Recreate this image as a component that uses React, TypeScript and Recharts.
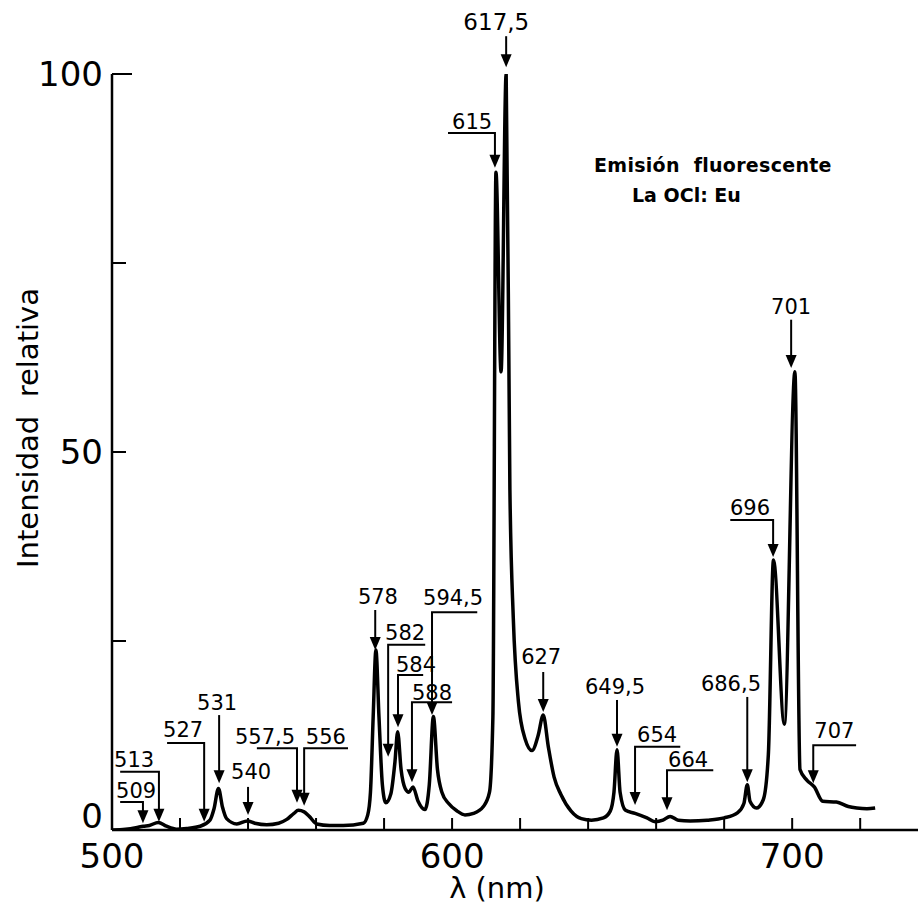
import { Customized, Line, LineChart, ReferenceDot, ReferenceLine, XAxis, YAxis } from 'recharts';

const FONT = "'DejaVu Sans', 'Open Sans', sans-serif";
const INK = '#000';

// spectrum: wavelength (nm) and relative intensity
const WAVELENGTH = [
  500, 504, 507, 509.2, 511, 513.6, 516, 519, 522, 525.9, 528.8, 530, 531.3, 532.5, 533.7, 536.7, 539.8, 542,
  545.5, 549, 551.4, 553.5, 554.8, 556.5, 558, 560.2, 564, 568, 573.9, 575.2, 576, 576.8, 577.6, 578.5, 579.5,
  580.5, 582, 583.2, 584, 585, 586.2, 587.3, 588.5, 590, 592, 593.3, 594.5, 595.7, 597, 599, 601.5, 603.8, 606.3,
  609.2, 611, 612, 612.9, 614.4, 615.9, 617, 618, 619.5, 621.5, 623.5, 625.3, 626.8, 628.3, 630, 632, 635, 638,
  641, 644.5, 646.5, 647.6, 648.5, 649.4, 651, 653.8, 657.3, 659.7, 662, 664.1, 666.5, 670, 675, 680, 684, 685.8,
  686.8, 687.6, 689.5, 691.5, 693, 694.5, 697.7, 700.8, 702.3, 704.3, 706.5, 709, 713, 716.5, 719, 722, 724.4,
];
const INTENSITY = [
  0, 0.1, 0.3, 0.5, 0.6, 1.0, 0.5, 0.1, 0.2, 0.5, 1.3, 2.8, 5.5, 3, 1.5, 0.8, 1.2, 0.9,
  0.7, 0.9, 1.4, 2.2, 2.6, 2.4, 1.8, 0.8, 0.6, 0.6, 0.9, 2, 5, 15, 23.8, 15, 6,
  3.6, 4.8, 9, 13, 8, 5.5, 5, 5.7, 3.8, 2.7, 6, 15, 8, 5, 3.5, 2.5, 2.0, 2.2,
  3.1, 5, 15, 87, 60.6, 100, 45, 28, 17, 12, 10.5, 12.5, 15.2, 11, 7, 4.7, 2.5, 1.5,
  1.3, 1.6, 2.5, 5, 10.6, 5, 2.6, 2.2, 1.6, 1.1, 1.3, 1.8, 1.3, 1.2, 1.3, 1.6, 2.3, 3.5,
  6, 3.8, 2.9, 4, 10, 35.7, 14, 60.6, 8, 6.6, 5.7, 3.8, 3.7, 3.1, 2.9, 2.8, 2.9,
];

const X_TICKS = [500, 520, 540, 560, 580, 600, 620, 640, 660, 680, 700, 720];
const X_LABELS = [500, 600, 700];
const Y_TICKS = [0, 25, 50, 75, 100];
const Y_LABELS = [0, 50, 100];

// peak labels: text spot, leader start and arrow tip, all in data units
const PEAKS = [
  { text: '509', tx: 507.1, ty: 5.2, sx: 502.4, sy: 3.7, ex: 509.1, ey: 0.9 },
  { text: '513', tx: 506.5, ty: 9.3, sx: 502.4, sy: 7.7, ex: 513.8, ey: 1.1 },
  { text: '527', tx: 520.9, ty: 13.2, sx: 516.2, sy: 11.5, ex: 527.1, ey: 1.1 },
  { text: '531', tx: 530.9, ty: 16.8, sx: 531.5, sy: 15.2, ex: 531.5, ey: 6.2 },
  { text: '540', tx: 540.9, ty: 7.7, sx: 540, sy: 5.7, ex: 540, ey: 2.0 },
  { text: '557,5', tx: 545, ty: 12.3, sx: 542.6, sy: 10.8, ex: 554.4, ey: 3.6 },
  { text: '556', tx: 562.9, ty: 12.3, sx: 569.4, sy: 10.8, ex: 556.5, ey: 3.2 },
  { text: '578', tx: 578.2, ty: 30.8, sx: 577.4, sy: 29.1, ex: 577.4, ey: 23.8 },
  { text: '582', tx: 586.2, ty: 26, sx: 592.1, sy: 24.5, ex: 581.2, ey: 9.7 },
  { text: '584', tx: 589.4, ty: 21.8, sx: 591.5, sy: 20.5, ex: 584.1, ey: 13.6 },
  { text: '588', tx: 594.1, ty: 18.1, sx: 600, sy: 16.9, ex: 588.2, ey: 6.3 },
  { text: '594,5', tx: 600.3, ty: 30.7, sx: 607.4, sy: 28.8, ex: 594.1, ey: 15.2 },
  { text: '615', tx: 605.9, ty: 93.7, sx: 598.8, sy: 92.2, ex: 612.6, ey: 87.6 },
  { text: '617,5', tx: 613, ty: 106.9, sx: 615.9, sy: 105, ex: 615.9, ey: 100.9 },
  { text: '627', tx: 626.2, ty: 22.9, sx: 626.8, sy: 20.9, ex: 626.8, ey: 15.6 },
  { text: '649,5', tx: 647.9, ty: 18.9, sx: 648.5, sy: 17.2, ex: 648.5, ey: 11 },
  { text: '654', tx: 660.3, ty: 12.6, sx: 667.1, sy: 11, ex: 653.8, ey: 3.3 },
  { text: '664', tx: 669.4, ty: 9.3, sx: 676.8, sy: 7.9, ex: 663.2, ey: 2.6 },
  { text: '686,5', tx: 682, ty: 19.3, sx: 686.8, sy: 17.6, ex: 686.8, ey: 6.3 },
  { text: '696', tx: 687.6, ty: 42.6, sx: 681.8, sy: 41, ex: 694.4, ey: 36.1 },
  { text: '701', tx: 699.7, ty: 69.2, sx: 699.7, sy: 67.5, ex: 699.7, ey: 61.1 },
  { text: '707', tx: 712.4, ty: 13.1, sx: 718.8, sy: 11.2, ex: 706.2, ey: 6.2 },
];

const data = WAVELENGTH.map((wl, i) => ({ wl, v: INTENSITY[i] }));

function XTick({ x, y, payload }: any) {
  return (
    <g>
      <line x1={x} y1={y} x2={x} y2={y - 12} stroke={INK} strokeWidth={2} />
      {X_LABELS.includes(payload.value) && (
        <text x={x} y={y + 38} textAnchor='middle' fontSize={34} fontFamily={FONT} fill={INK}>
          {payload.value}
        </text>
      )}
    </g>
  );
}

function YTick({ x, y, payload }: any) {
  // the zero label sits a little above its tick
  const base = payload.value === 0 ? y - 2 : y + 12;
  return (
    <g>
      <line x1={x} y1={y} x2={x + (payload.value === 100 ? 20 : 14)} y2={y} stroke={INK} strokeWidth={2} />
      {Y_LABELS.includes(payload.value) && (
        <text x={x - 9} y={base} textAnchor='end' fontSize={34} fontFamily={FONT} fill={INK}>
          {payload.value}
        </text>
      )}
    </g>
  );
}

// elbow leader: along from the start, then down into an arrow head at the tip
function Leader({ x1, y1, x2, y2 }: any) {
  const head = 13;
  return (
    <g>
      <polyline
        points={`${x1},${y1} ${x2},${y1} ${x2},${y2 - head + 2}`}
        fill='none'
        stroke={INK}
        strokeWidth={2}
      />
      <polygon points={`${x2 - 5.5},${y2 - head} ${x2 + 5.5},${y2 - head} ${x2},${y2}`} fill={INK} />
    </g>
  );
}

function Titles() {
  return (
    <g fontFamily={FONT} fill={INK}>
      <text x={28} y={428} transform='rotate(-90 28 428)' textAnchor='middle' dominantBaseline='central' fontSize={29}>
        Intensidad{'\u00a0\u00a0'}relativa
      </text>
      <text x={497} y={898} textAnchor='middle' fontSize={29}>
        λ (nm)
      </text>
      <text x={594} y={172} fontSize={19} fontWeight='bold' letterSpacing={0.3}>
        Emisión{'\u00a0\u00a0'}fluorescente
      </text>
      <text x={632} y={202} fontSize={19} fontWeight='bold'>
        La OCl: Eu
      </text>
    </g>
  );
}

export default function App() {
  return (
    <div style={{ position: 'absolute', left: 0, top: 0, background: '#fff' }}>
      <LineChart width={918} height={912} data={data} margin={{ top: 74, right: 0, bottom: 0, left: 12 }}>
        <XAxis
          type='number'
          dataKey='wl'
          domain={[500, 737]}
          ticks={X_TICKS}
          interval={0}
          allowDataOverflow
          height={82}
          tickSize={0}
          tickMargin={0}
          tickLine={false}
          tick={<XTick />}
          axisLine={{ stroke: INK, strokeWidth: 2.5 }}
        />
        <YAxis
          type='number'
          domain={[0, 100]}
          ticks={Y_TICKS}
          interval={0}
          allowDataOverflow
          width={100}
          tickSize={0}
          tickMargin={0}
          tickLine={false}
          tick={<YTick />}
          axisLine={{ stroke: INK, strokeWidth: 2.5 }}
        />
        <Line
          type='monotone'
          dataKey='v'
          stroke={INK}
          strokeWidth={3.5}
          dot={false}
          isAnimationActive={false}
        />
        {PEAKS.map((p) => (
          <ReferenceLine
            key={'l' + p.text}
            segment={[
              { x: p.sx, y: p.sy },
              { x: p.ex, y: p.ey },
            ]}
            ifOverflow='visible'
            shape={(props: any) => <Leader {...props} />}
          />
        ))}
        {PEAKS.map((p) => (
          <ReferenceDot
            key={'t' + p.text}
            x={p.tx}
            y={p.ty}
            r={0}
            ifOverflow='visible'
            shape={(props: any) => (
              <text
                x={props.cx}
                y={props.cy}
                textAnchor='middle'
                dominantBaseline='central'
                fontSize={p.text === '617,5' ? 23 : 21}
                fontFamily={FONT}
                fill={INK}
              >
                {p.text}
              </text>
            )}
          />
        ))}
        <Customized component={<Titles />} />
      </LineChart>
    </div>
  );
}
